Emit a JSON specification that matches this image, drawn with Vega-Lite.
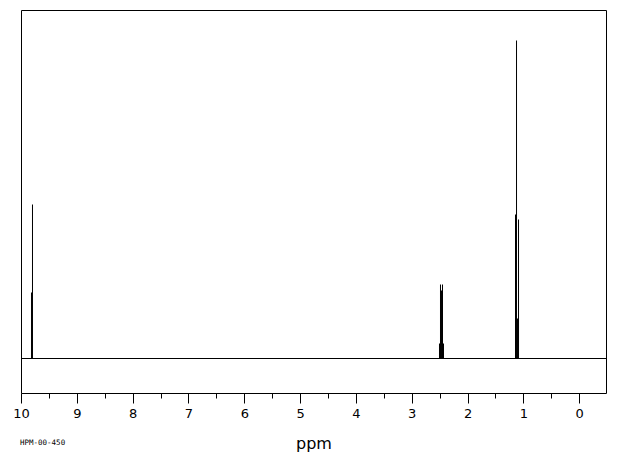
{
  "$schema": "https://vega.github.io/schema/vega-lite/v6.json",
  "autosize": "none",
  "padding": {"left": 21, "top": 10, "right": 14, "bottom": 62},
  "width": 585,
  "height": 383,
  "background": "white",
  "config": {
    "view": {"stroke": "black", "strokeWidth": 1},
    "font": "DejaVu Sans"
  },
  "title": {
    "text": "HPM-00-450",
    "orient": "bottom",
    "anchor": "start",
    "frame": "group",
    "font": "DejaVu Sans Mono",
    "fontSize": 7.5,
    "fontWeight": "normal",
    "color": "black",
    "offset": -12,
    "dx": -1
  },
  "datasets": {
    "peaks": [
      {"ppm": 9.812, "h": 66},
      {"ppm": 9.794, "h": 154},
      {"ppm": 2.503, "h": 15},
      {"ppm": 2.485, "h": 74},
      {"ppm": 2.467, "h": 68},
      {"ppm": 2.449, "h": 74},
      {"ppm": 2.431, "h": 15},
      {"ppm": 1.141, "h": 144},
      {"ppm": 1.123, "h": 318},
      {"ppm": 1.105, "h": 40},
      {"ppm": 1.087, "h": 139}
    ],
    "base": [{"h": 0}]
  },
  "resolve": {"axis": {"x": "independent"}},
  "layer": [
    {
      "data": {"name": "peaks"},
      "mark": {"type": "rule", "color": "black", "strokeWidth": 1},
      "encoding": {
        "x": {
          "field": "ppm",
          "type": "quantitative",
          "scale": {"domain": [-0.48, 10], "reverse": true, "nice": false, "zero": false},
          "axis": {
            "orient": "bottom",
            "values": [0.5, 1.5, 2.5, 3.5, 4.5, 5.5, 6.5, 7.5, 8.5, 9.5],
            "tickSize": 5,
            "tickColor": "black",
            "tickWidth": 1,
            "labels": false,
            "domain": false,
            "grid": false,
            "title": null
          }
        },
        "y": {
          "field": "h",
          "type": "quantitative",
          "scale": {"domain": [-34.5, 348.5], "nice": false, "zero": false},
          "axis": null
        },
        "y2": {"datum": 0}
      }
    },
    {
      "data": {"name": "base"},
      "mark": {"type": "rule", "color": "black", "strokeWidth": 1},
      "encoding": {
        "y": {"field": "h", "type": "quantitative"},
        "x": {
          "datum": 10,
          "type": "quantitative",
          "axis": {
            "orient": "bottom",
            "values": [0, 1, 2, 3, 4, 5, 6, 7, 8, 9, 10],
            "tickSize": 10,
            "tickColor": "black",
            "tickWidth": 1,
            "domain": false,
            "grid": false,
            "labelFont": "DejaVu Sans",
            "labelFontSize": 13,
            "labelColor": "black",
            "labelPadding": 4,
            "labelFlush": false,
            "title": "ppm",
            "titleFont": "DejaVu Sans",
            "titleFontSize": 16,
            "titleFontWeight": "normal",
            "titleColor": "black",
            "titlePadding": 15
          }
        },
        "x2": {"datum": -0.48}
      }
    }
  ]
}
